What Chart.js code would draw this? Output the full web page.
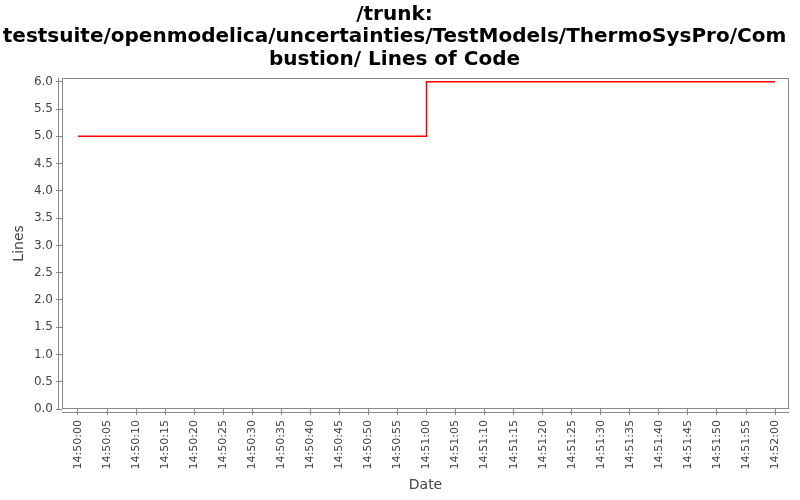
<!DOCTYPE html>
<html>
<head>
<meta charset="utf-8">
<script src="https://cdn.jsdelivr.net/npm/chart.js@4"></script>
<style>
body { margin: 0; background: #fff; }
#wrap { width: 800px; height: 500px; }
</style>
</head>
<body>
<div id="wrap"><canvas id="myChart"></canvas></div>
<script>
// data
var times  = ["14:50:00", "14:51:00", "14:52:00"];
var lines  = [5, 6, 6];
var xTicks = ["14:50:00","14:50:05","14:50:10","14:50:15","14:50:20","14:50:25","14:50:30","14:50:35",
              "14:50:40","14:50:45","14:50:50","14:50:55","14:51:00","14:51:05","14:51:10","14:51:15",
              "14:51:20","14:51:25","14:51:30","14:51:35","14:51:40","14:51:45","14:51:50","14:51:55","14:52:00"];
var yTicks = [0, 0.5, 1, 1.5, 2, 2.5, 3, 3.5, 4, 4.5, 5, 5.5, 6];

var titleLines = ["/trunk:", "testsuite/openmodelica/uncertainties/TestModels/ThermoSysPro/Com", "bustion/ Lines of Code"];

// seconds since 14:50:00
function secs(str){
	var p = str.split(":").map(Number);
	return (p[0]*3600 + p[1]*60 + p[2]) - (14*3600 + 50*60);
}
var labelOf = {};
xTicks.forEach(t => { labelOf[secs(t)] = t; });

const frame = {
	id: 'frame',
	beforeDatasetsDraw(chart){
		var a = chart.chartArea, c = chart.ctx;
		c.save();
		c.strokeStyle = '#888';
		c.lineWidth = 1;
		c.strokeRect(Math.round(a.left)+0.5, Math.round(a.top)+0.5, Math.round(a.right-a.left)-1, Math.round(a.bottom-a.top)-1);
		c.beginPath();
		var lx = Math.round(a.left) - 3.5;
		var by = Math.round(a.bottom) + 3.5;
		c.moveTo(lx, a.top); c.lineTo(lx, a.bottom);
		c.moveTo(a.left, by); c.lineTo(a.right, by);
		c.stroke();
		c.restore();
	}
};

const data = {
  datasets: [{
    label: 'Lines',
    data: times.map((t, i) => ({x: secs(t), y: lines[i]})),
    borderColor: '#ff0000',
    borderWidth: 1.5,
    pointRadius: 0,
    stepped: true,
    fill: false
  }]
};

const config = {
  type: 'line',
  data: data,
  options: {
    responsive: true,
    maintainAspectRatio: false,
    animation: false,
    layout: { padding: { right: 11 } },
    plugins: {
      legend: { display: false },
      tooltip: { enabled: false },
      title: {
        display: true,
        text: titleLines,
        color: '#000',
        font: { family: 'DejaVu Sans', size: 20, weight: 'bold', lineHeight: 1.13 },
        padding: { top: 3, bottom: 7 }
      }
    },
    scales: {
      x: {
        type: 'linear',
        min: -2.75,
        max: 122.4,
        afterBuildTicks: s => { s.ticks = xTicks.map(t => ({value: secs(t)})); },
        afterFit: s => { s.height = 91; },
        border: { display: false },
        grid: { drawOnChartArea: false, drawTicks: true, tickLength: 6, color: '#888' },
        ticks: {
          autoSkip: false, minRotation: 90, maxRotation: 90, padding: 5,
          color: '#444', font: { family: 'DejaVu Sans', size: 11 },
          callback: v => labelOf[v]
        },
        title: { display: true, text: 'Date', color: '#444',
                 font: { family: 'DejaVu Sans', size: 14 }, padding: { top: 0, bottom: 6 } }
      },
      y: {
        min: 0,
        max: 6.073,
        afterBuildTicks: s => { s.ticks = yTicks.map(v => ({value: v})); },
        afterFit: s => { s.width = 62; },
        border: { display: false },
        grid: { drawOnChartArea: false, drawTicks: true, tickLength: 6, color: '#888' },
        ticks: {
          padding: 3, color: '#444', font: { family: 'DejaVu Sans', size: 12 },
          callback: v => v.toFixed(1)
        },
        title: { display: true, text: 'Lines', color: '#444',
                 font: { family: 'DejaVu Sans', size: 14 }, padding: { top: 11, bottom: 0 } }
      }
    }
  },
  plugins: [frame]
};

const myChart = new Chart(document.getElementById('myChart'), config);
</script>
</body>
</html>
